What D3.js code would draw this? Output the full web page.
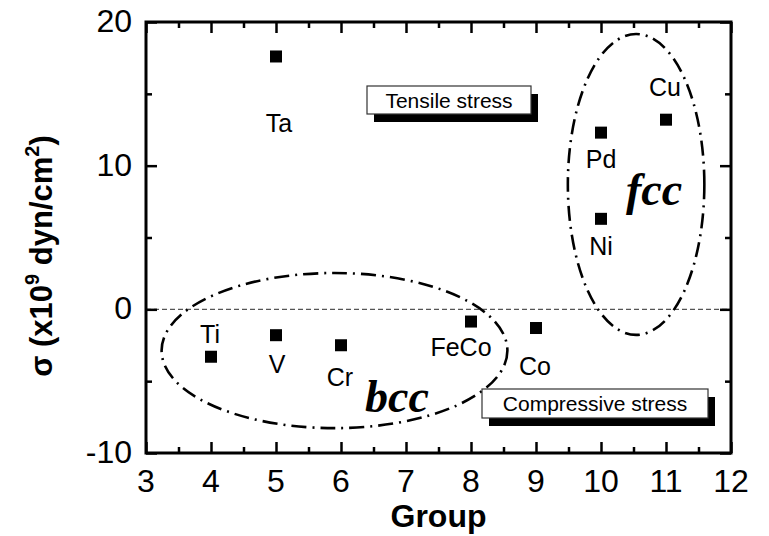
<!DOCTYPE html>
<html>
<head>
<meta charset="utf-8">
<script src="https://cdn.jsdelivr.net/npm/d3@7/dist/d3.min.js"></script>
<style>
  html, body { margin: 0; padding: 0; background: #fff; }
  svg { display: block; }
  text { font-family: Arial, "Liberation Sans", sans-serif; }
  text.phase { font-family: "Liberation Serif", "Times New Roman", serif; }
</style>
</head>
<body>
<svg id="chart" width="769" height="536"></svg>
<script>
// Residual film stress by periodic-table group
const elements = ["Ti", "V", "Cr", "FeCo", "Co", "Pd", "Ni", "Cu", "Ta"];
const groups   = [4, 5, 6, 8, 9, 10, 10, 11, 5];
const stress   = [-3.3, -1.8, -2.5, -0.85, -1.3, 12.3, 6.3, 13.2, 17.6];

const xTicks = [3, 4, 5, 6, 7, 8, 9, 10, 11, 12];
const yTicks = [-10, 0, 10, 20];

// Structure envelopes (centre, half-widths in data units)
const phaseNames = ["bcc", "fcc"];
const phaseCx = [5.9, 10.54];
const phaseCy = [-2.87, 8.69];
const phaseRx = [2.66, 1.05];
const phaseRy = [5.4, 10.47];

const plot = { left: 146, right: 731, top: 22, bottom: 453 };

const svg = d3.select("#chart");
const x = d3.scaleLinear().domain([3, 12]).range([plot.left, plot.right]);
const y = d3.scaleLinear().domain([-10, 20]).range([plot.bottom, plot.top]);

// label placement relative to each marker (pixels)
const labelOffset = {
  Ti: [-1, -14], V: [1, 38], Cr: [-1, 41], FeCo: [-10, 34], Co: [-1, 47],
  Pd: [0, 35], Ni: [0, 36], Cu: [-1, -24], Ta: [3, 76]
};

// zero-stress reference line
svg.append("line")
  .attr("x1", x(3)).attr("x2", x(12))
  .attr("y1", y(0)).attr("y2", y(0))
  .attr("stroke", "#555").attr("stroke-width", 1.3)
  .attr("stroke-dasharray", "5,3");

// ticks on all four sides (inward), major at integers / decades, minor halfway
function tickSide(axisFn, scale, values, size, transform) {
  const g = svg.append("g").attr("transform", transform)
    .call(axisFn(scale).tickValues(values).tickSize(size).tickFormat(""));
  g.select(".domain").remove();
  g.selectAll(".tick line").attr("stroke", "#000").attr("stroke-width", 2.5);
}
const xMinor = d3.range(3.5, 12, 1);
const yMinor = [-5, 5, 15];
tickSide(d3.axisTop, x, xTicks, 11, `translate(0,${plot.bottom})`);
tickSide(d3.axisTop, x, xMinor, 6, `translate(0,${plot.bottom})`);
tickSide(d3.axisBottom, x, xTicks, 11, `translate(0,${plot.top})`);
tickSide(d3.axisBottom, x, xMinor, 6, `translate(0,${plot.top})`);
tickSide(d3.axisRight, y, yTicks, 11, `translate(${plot.left},0)`);
tickSide(d3.axisRight, y, yMinor, 6, `translate(${plot.left},0)`);
tickSide(d3.axisLeft, y, yTicks, 11, `translate(${plot.right},0)`);
tickSide(d3.axisLeft, y, yMinor, 6, `translate(${plot.right},0)`);

// tick labels
svg.append("g").selectAll("text").data(xTicks).join("text")
  .attr("x", d => x(d)).attr("y", plot.bottom + 39)
  .attr("text-anchor", "middle").attr("font-size", 32)
  .text(d => d);
svg.append("g").selectAll("text").data(yTicks).join("text")
  .attr("x", plot.left - 14).attr("y", d => y(d) + 10)
  .attr("text-anchor", "end").attr("font-size", 32)
  .text(d => d);

// frame
svg.append("rect")
  .attr("x", plot.left).attr("y", plot.top)
  .attr("width", plot.right - plot.left).attr("height", plot.bottom - plot.top)
  .attr("fill", "none").attr("stroke", "#000").attr("stroke-width", 3);

// axis titles
svg.append("text")
  .attr("x", (plot.left + plot.right) / 2).attr("y", 527)
  .attr("text-anchor", "middle").attr("font-size", 32).attr("font-weight", "bold")
  .text("Group");

const yt = svg.append("text")
  .attr("transform", "translate(52,256) rotate(-90)")
  .attr("text-anchor", "middle").attr("font-size", 31).attr("font-weight", "bold");
yt.append("tspan").text("σ (x10");
yt.append("tspan").attr("font-size", 20).attr("dy", -13).text("9");
yt.append("tspan").attr("dy", 13).text(" dyn/cm");
yt.append("tspan").attr("font-size", 20).attr("dy", -13).text("2");
yt.append("tspan").attr("dy", 13).text(")");

// phase envelopes
svg.append("g").selectAll("ellipse").data(phaseNames).join("ellipse")
  .attr("cx", (d, i) => x(phaseCx[i]))
  .attr("cy", (d, i) => y(phaseCy[i]))
  .attr("rx", (d, i) => x(phaseCx[i] + phaseRx[i]) - x(phaseCx[i]))
  .attr("ry", (d, i) => y(phaseCy[i]) - y(phaseCy[i] + phaseRy[i]))
  .attr("fill", "none").attr("stroke", "#000").attr("stroke-width", 2.6)
  .attr("stroke-dasharray", "15,6,2,6");

// phase names
const phaseLabelX = [6.37, 10.385];
const phaseLabelY = [-7.15, 7.26];
svg.append("g").selectAll("text").data(phaseNames).join("text")
  .attr("class", "phase")
  .attr("x", (d, i) => x(phaseLabelX[i]))
  .attr("y", (d, i) => y(phaseLabelY[i]))
  .attr("font-style", "italic").attr("font-weight", "bold")
  .attr("font-size", 46)
  .text(d => d);

// stress annotation boxes
function noteBox(cx, cy, w, h, label) {
  const g = svg.append("g");
  g.append("rect").attr("x", cx - w / 2 + 7).attr("y", cy - h / 2 + 8)
    .attr("width", w).attr("height", h).attr("fill", "#000");
  g.append("rect").attr("x", cx - w / 2).attr("y", cy - h / 2)
    .attr("width", w).attr("height", h)
    .attr("fill", "#fff").attr("stroke", "#333").attr("stroke-width", 1.2);
  g.append("text").attr("x", cx).attr("y", cy + 7.5)
    .attr("text-anchor", "middle").attr("font-size", 21).text(label);
}
noteBox(449, 100, 164, 28, "Tensile stress");
noteBox(595, 403.5, 226, 29, "Compressive stress");

// data markers
const pts = elements.map((e, i) => ({ name: e, g: groups[i], s: stress[i] }));
svg.append("g").selectAll("rect").data(pts).join("rect")
  .attr("x", d => x(d.g) - 6).attr("y", d => y(d.s) - 6)
  .attr("width", 12).attr("height", 12).attr("fill", "#000");

svg.append("g").selectAll("text").data(pts).join("text")
  .attr("x", d => x(d.g) + labelOffset[d.name][0])
  .attr("y", d => y(d.s) + labelOffset[d.name][1])
  .attr("text-anchor", "middle").attr("font-size", 25)
  .text(d => d.name);
</script>
</body>
</html>
